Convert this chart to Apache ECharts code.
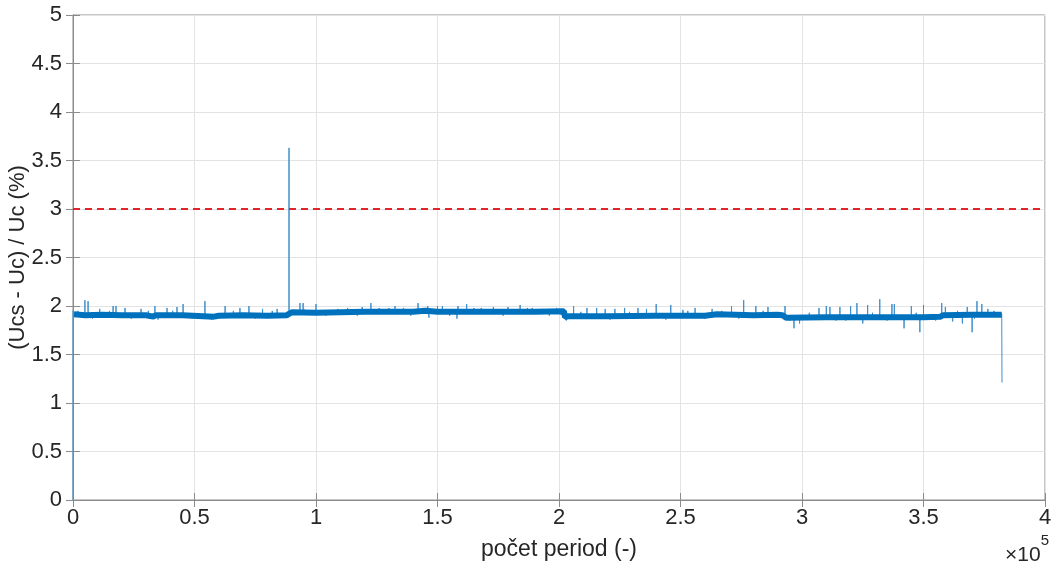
<!DOCTYPE html>
<html>
<head>
<meta charset="utf-8">
<script src="https://cdn.jsdelivr.net/npm/echarts@6/dist/echarts.min.js"></script>
<style>html,body{margin:0;padding:0;background:#fff}#c{width:1059px;height:570px}</style>
</head>
<body>
<div id="c"></div>
<script>
// x values in units of 1e5 periods
const xTicks = [0, 0.5, 1, 1.5, 2, 2.5, 3, 3.5, 4];
const yTicks = [0, 0.5, 1, 1.5, 2, 2.5, 3, 3.5, 4, 4.5, 5];
const limitValue = 3;

// main (dense) band level
const bandX = [0.004, 0.05, 0.12, 0.2, 0.3, 0.33, 0.34, 0.45, 0.58, 0.6, 0.7, 0.8, 0.88, 0.889, 0.90, 1.0, 1.2, 1.4, 1.45, 1.5, 1.7, 1.9, 2.02, 2.025, 2.04, 2.2, 2.4, 2.6, 2.65, 2.8, 2.9, 2.92, 2.935, 3.1, 3.3, 3.5, 3.57, 3.58, 3.7, 3.822];
const bandY = [1.915, 1.905, 1.91, 1.905, 1.905, 1.89, 1.905, 1.905, 1.89, 1.9, 1.905, 1.9, 1.905, 1.92, 1.935, 1.93, 1.94, 1.94, 1.95, 1.94, 1.94, 1.94, 1.945, 1.885, 1.895, 1.895, 1.9, 1.9, 1.915, 1.905, 1.91, 1.905, 1.88, 1.885, 1.885, 1.885, 1.89, 1.905, 1.91, 1.91];

// spikes (position, extreme value)
const spikeX = [0.049, 0.062, 0.11, 0.165, 0.177, 0.214, 0.28, 0.337, 0.387, 0.428, 0.453, 0.543, 0.626, 0.687, 0.724, 0.78, 0.84, 0.889, 0.934, 0.947, 1.0, 1.09, 1.19, 1.226, 1.26, 1.325, 1.36, 1.42, 1.46, 1.465, 1.50, 1.52, 1.58, 1.585, 1.62, 1.65, 1.73, 1.79, 1.84, 1.89, 1.93, 1.99, 2.06, 2.115, 2.155, 2.19, 2.23, 2.27, 2.325, 2.36, 2.40, 2.46, 2.51, 2.56, 2.63, 2.71, 2.76, 2.81, 2.86, 2.93, 2.967, 2.99, 3.07, 3.10, 3.115, 3.14, 3.156, 3.2, 3.226, 3.25, 3.27, 3.32, 3.37, 3.38, 3.42, 3.45, 3.485, 3.5, 3.575, 3.59, 3.62, 3.66, 3.68, 3.70, 3.72, 3.74, 3.765];
const spikeY = [2.06, 2.05, 1.97, 2.0, 2.0, 1.98, 1.97, 2.0, 1.98, 1.99, 2.02, 2.05, 2.0, 1.98, 2.0, 1.97, 1.97, 3.63, 2.03, 2.03, 2.02, 1.97, 1.99, 2.03, 1.98, 2.0, 1.98, 2.03, 2.0, 1.88, 2.0, 2.0, 1.87, 2.0, 2.02, 1.98, 1.99, 1.99, 2.01, 1.98, 1.97, 1.98, 2.0, 1.98, 1.98, 1.97, 1.97, 1.98, 1.98, 1.97, 2.02, 2.01, 1.96, 1.98, 1.97, 2.0, 2.06, 2.0, 1.99, 2.0, 1.77, 1.82, 1.98, 2.0, 1.99, 1.85, 1.99, 2.0, 2.03, 1.82, 2.01, 2.07, 2.02, 2.02, 1.77, 2.0, 1.73, 2.01, 2.03, 1.99, 1.84, 1.82, 1.99, 1.73, 2.05, 2.02, 1.97];

// small fuzz excursions on the band (position, extreme value)
const fuzzX = [0.02, 0.08, 0.15, 0.24, 0.31, 0.35, 0.41, 0.49, 0.57, 0.66, 0.75, 0.82, 0.95, 1.04, 1.13, 1.17, 1.3, 1.39, 1.44, 1.55, 1.68, 1.77, 1.87, 1.96, 2.03, 2.09, 2.21, 2.29, 2.44, 2.53, 2.6, 2.67, 2.74, 2.84, 2.95, 3.03, 3.18, 3.29, 3.35, 3.47, 3.55, 3.64, 3.71, 3.79];
const fuzzY = [1.95, 1.87, 1.95, 1.87, 1.95, 1.86, 1.95, 1.87, 1.86, 1.95, 1.87, 1.95, 1.97, 1.9, 1.98, 1.9, 1.98, 1.9, 1.98, 1.9, 1.98, 1.9, 1.98, 1.9, 1.85, 1.94, 1.86, 1.94, 1.86, 1.95, 1.87, 1.95, 1.87, 1.95, 1.85, 1.93, 1.85, 1.93, 1.85, 1.93, 1.85, 1.95, 1.87, 1.95];

// start and end transients
const startX = [0, 0, 0.004];
const startY = [0, 1.95, 1.92];
const endX = [3.822, 3.823];
const endY = [1.92, 1.21];

function levelAt(x) {
  let v = bandY[0];
  for (let i = 0; i < bandX.length; i++) { if (bandX[i] <= x) v = bandY[i]; }
  return v;
}

const bandData = bandX.map((x, i) => [x, bandY[i]]);
const thinData = [];
startX.forEach((x, i) => thinData.push([x, startY[i]]));
const marks = spikeX.map((x, i) => [x, spikeY[i]]).concat(fuzzX.map((x, i) => [x, fuzzY[i]]));
marks.sort((a, b) => a[0] - b[0]);
marks.forEach(([x, y]) => {
  const b = levelAt(x);
  thinData.push([x, b], [x, y], [x, b]);
});
endX.forEach((x, i) => thinData.push([x, endY[i]]));

const FONT = 'Liberation Sans, Arial, sans-serif';
const axisCol = '#262626';
const boxCol = '#8c8c8c';
const chart = echarts.init(document.getElementById('c'), null, {renderer: 'canvas'});
chart.setOption({
  animation: false,
  backgroundColor: '#ffffff',
  grid: {left: 73, right: 14, top: 15, bottom: 70, containLabel: false, outerBoundsMode: 'none',
         show: true, borderColor: boxCol, borderWidth: 1},
  xAxis: [{
    type: 'value', min: 0, max: 4, interval: 0.5,
    name: 'počet period (-)', nameLocation: 'middle', nameGap: 38, nameMoveOverlap: false,
    nameTextStyle: {fontFamily: FONT, fontSize: 23, color: axisCol},
    axisLine: {show: true, lineStyle: {color: boxCol}},
    axisTick: {show: true, inside: true, length: 7, lineStyle: {color: boxCol}},
    axisLabel: {fontFamily: FONT, fontSize: 22, color: axisCol, margin: 7},
    splitLine: {show: true, lineStyle: {color: '#e3e3e3', width: 1}}
  }, {
    type: 'value', min: 0, max: 4, interval: 0.5, position: 'top',
    axisLine: {show: true, lineStyle: {color: boxCol}},
    axisTick: {show: true, inside: true, length: 7, lineStyle: {color: boxCol}},
    axisLabel: {show: false}, splitLine: {show: false}
  }],
  yAxis: [{
    type: 'value', min: 0, max: 5, interval: 0.5,
    name: '(Ucs - Uc) / Uc (%)', nameLocation: 'middle', nameGap: 44, nameMoveOverlap: false,
    nameTextStyle: {fontFamily: FONT, fontSize: 22, color: axisCol},
    axisLine: {show: true, lineStyle: {color: boxCol}},
    axisTick: {show: true, inside: true, length: 7, lineStyle: {color: boxCol}},
    axisLabel: {fontFamily: FONT, fontSize: 22, color: axisCol, margin: 11},
    splitLine: {show: true, lineStyle: {color: '#e3e3e3', width: 1}}
  }, {
    type: 'value', min: 0, max: 5, interval: 0.5, position: 'right',
    axisLine: {show: true, lineStyle: {color: boxCol}},
    axisTick: {show: true, inside: true, length: 7, lineStyle: {color: boxCol}},
    axisLabel: {show: false}, splitLine: {show: false}
  }],
  graphic: [{
    type: 'text', right: 10, top: 533,
    style: {
      text: '{a|×10}{b|5}',
      rich: {
        a: {fontFamily: FONT, fontSize: 21, fill: axisCol, padding: [12, 0, 0, 0]},
        b: {fontFamily: FONT, fontSize: 15, fill: axisCol, verticalAlign: 'top', padding: [0, 0, 12, 0]}
      }
    }
  }],
  series: [
    {
      type: 'line', data: thinData, symbol: 'none', z: 3,
      lineStyle: {color: '#3f8fcc', width: 1}
    },
    {
      type: 'line', data: bandData, symbol: 'none', z: 4,
      lineStyle: {color: '#0072BD', width: 6}
    },
    {
      type: 'line', data: [[0, limitValue], [4, limitValue]], symbol: 'none', z: 5,
      lineStyle: {color: '#e0262b', width: 2, type: [7, 5]}
    }
  ]
});
</script>
</body>
</html>
